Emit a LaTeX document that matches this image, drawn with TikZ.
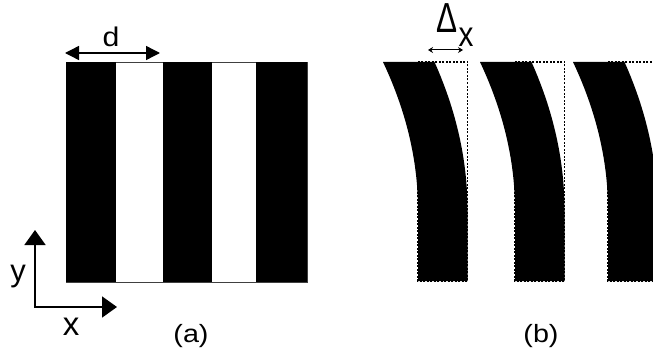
\documentclass[tikz,border=0pt]{standalone}
\usepackage{fontspec}
\setmainfont{Liberation Sans}
\usetikzlibrary{arrows.meta}
\begin{document}
\begin{tikzpicture}[x=1pt,y=-1pt,
  lbl/.style={inner sep=0pt,anchor=base},
  outl/.style={dash pattern=on 2pt off 1.5pt,line width=1.1pt},
  bigarrow/.style={{Triangle[length=15pt,width=21pt]}-{Triangle[length=15pt,width=21pt]},line width=1.8pt},
  darrow/.style={{Triangle[length=14pt,width=14pt]}-{Triangle[length=14pt,width=14pt]},line width=1.4pt},
  smallarrow/.style={{Stealth[length=5pt,width=6pt]}-{Stealth[length=5pt,width=6pt]},line width=1pt},
  ]
\useasboundingbox (0,0) rectangle (653,353);
% ---------- panel (a)
\draw[line width=0.9pt,black!75] (66,62.5) rectangle (307,282);
\fill (66,62.5) rectangle (116,282);
\fill (163,62.5) rectangle (212,282);
\fill (256,62.5) rectangle (307,282);
\coordinate (dl) at (65,53);
\coordinate (dr) at (160,53);
\draw[darrow] (dl) -- (dr);
\node[lbl,font=\fontsize{27}{27}\selectfont] (d) at (111,47) {\scalebox{1.12}[1]{d}};
% axes
\coordinate (o) at (35,307);
\coordinate (ty) at (35,230);
\coordinate (tx) at (117,307);
\draw[bigarrow] (ty) -- (o) -- (tx);
\node[lbl,font=\fontsize{31}{31}\selectfont] (ylab) at (18,281) {y};
\node[lbl,font=\fontsize{33}{33}\selectfont] (xlab) at (71,335) {x};
\node[lbl,font=\fontsize{25}{25}\selectfont] (la) at (191,342) {\scalebox{1.15}[1]{(a)}};
% ---------- panel (b)
\begin{scope}
\clip (370,0) rectangle (653,353);
\foreach \xo in {418,515,608}{
  \fill (\xo-35,62) .. controls (\xo-11.7,111.3) and (\xo,160.7) .. (\xo,210)
        -- (\xo,281) -- (\xo+49.5,281) -- (\xo+49.5,210)
        .. controls (\xo+49.5,160.7) and (\xo+49.5-11,111.3) .. (\xo+49.5-33,62) -- cycle;
  \draw[outl] (\xo,62) rectangle (\xo+49.5,281);
}
\end{scope}
\coordinate (xl) at (428,50);
\coordinate (xr) at (463,50);
\draw[smallarrow] (xl) -- (xr);
\node[lbl,font=\fontsize{42}{42}\selectfont] (delta) at (447,33) {\scalebox{0.75}[1]{Δ}};
\node[lbl,font=\fontsize{35}{35}\selectfont] (dx) at (466,47) {\scalebox{0.85}[1]{x}};
\node[lbl,font=\fontsize{25}{25}\selectfont] (lb) at (541,342) {\scalebox{1.15}[1]{(b)}};
\end{tikzpicture}
\end{document}
